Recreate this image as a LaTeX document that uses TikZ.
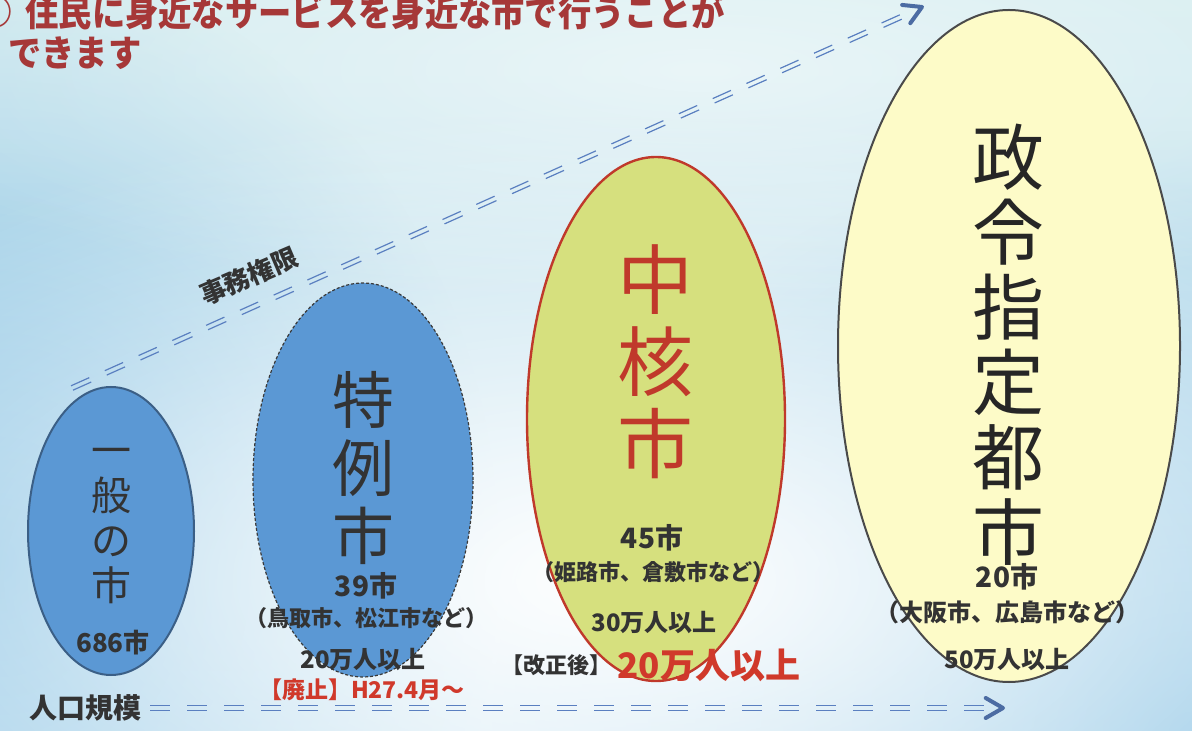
\documentclass[tikz,border=0pt]{standalone}
\usepackage{fontspec}
\newfontfamily\jp{Noto Sans CJK JP}
\newfontfamily\jpc{Noto Sans CJK JP}[FakeStretch=0.925]
\usetikzlibrary{shapes.geometric,calc,fadings}
\tikzfading[name=glow, inner color=transparent!0, outer color=transparent!100]
\definecolor{titlered}{HTML}{A63838}
\definecolor{textgray}{HTML}{333333}
\definecolor{labelred}{HTML}{D0392B}
\definecolor{cityblue}{HTML}{5B98D4}
\definecolor{blueedge}{HTML}{3B5F86}
\definecolor{darkedge}{HTML}{3A3A3A}
\definecolor{coregreen}{HTML}{D6E07E}
\definecolor{corered}{HTML}{C0392B}
\definecolor{desigyellow}{HTML}{FDFBC8}
\definecolor{desigedge}{HTML}{4A4A4A}
\definecolor{arrowblue}{HTML}{5A7FC0}
\definecolor{bgtop}{HTML}{D3ECEF}
\definecolor{bgmid}{HTML}{C2E1EF}
\definecolor{bgbot}{HTML}{C8E4F2}
\definecolor{bgdeep}{HTML}{8EC5E5}
\begin{document}
\begin{tikzpicture}[x=0.5pt,y=-0.5pt]
\tikzset{
  ell/.style={ellipse, inner sep=0pt, line width=1pt},
  txt/.style={inner sep=0pt, text=textgray},
  fsz/.style={font=\jp\fontsize{#1}{#1}\selectfont},
  fszb/.style={font=\jp\bfseries\fontsize{#1}{#1}\selectfont},
  ttl/.style={inner sep=0pt, text=titlered, font=\jpc\bfseries\fontsize{18}{18}\selectfont},
  vert/.style 2 args={inner sep=0pt, align=center, font=\jp\fontsize{#1}{#2}\selectfont},
  dline/.style={draw=arrowblue, line width=0.6pt, dash pattern=on 10pt off 8.5pt},
  chevron/.style={draw=arrowblue!85!black, line width=2pt, line cap=round, line join=round},
}
\useasboundingbox (0,0) rectangle (1192,731);
% background
\shade[top color=bgtop, bottom color=bgbot, middle color=bgmid] (0,0) rectangle (1192,731);
\begin{scope}
\clip (0,0) rectangle (1192,731);
\fill[bgdeep, path fading=glow] (0,560) ellipse (500 and 600);
\fill[bgdeep, path fading=glow] (1192,731) ellipse (700 and 600);
\fill[white, path fading=glow] (620,580) ellipse (1000 and 480);
\fill[white, path fading=glow, opacity=0.55] (700,70) ellipse (900 and 240);
\end{scope}

% arrows
\coordinate (ds) at (72,388);
\coordinate (de) at (912,12);
\coordinate (dt) at (922,7);
\draw[dline] ($(ds)!1.2pt!90:(de)$) -- ($(de)!1.2pt!-90:(ds)$);
\draw[dline] ($(ds)!1.2pt!-90:(de)$) -- ($(de)!1.2pt!90:(ds)$);
\draw[chevron] ($(dt)!10pt!30:(ds)$) -- (dt) -- ($(dt)!10pt!-30:(ds)$);

\coordinate (hs) at (150,708);
\coordinate (he) at (990,708);
\coordinate (ht) at (1003,708);
\draw[dline] ($(hs)!1.2pt!90:(he)$) -- ($(he)!1.2pt!-90:(hs)$);
\draw[dline] ($(hs)!1.2pt!-90:(he)$) -- ($(he)!1.2pt!90:(hs)$);
\draw[chevron] ($(ht)!10pt!30:(hs)$) -- (ht) -- ($(ht)!10pt!-30:(hs)$);

% ellipses
\node[ell, fill=cityblue, draw=blueedge, minimum width=83pt, minimum height=144pt] (e1) at (111,531) {};
\node[ell, fill=cityblue, draw=darkedge, line width=0.6pt, dash pattern=on 1.5pt off 1pt, minimum width=110pt, minimum height=197pt] (e2) at (363,480) {};
\node[ell, fill=coregreen, draw=corered, line width=1.2pt, minimum width=129pt, minimum height=262pt] (e3) at (656,419) {};
\node[ell, fill=desigyellow, draw=desigedge, minimum width=171pt, minimum height=336pt] (e4) at (1009,346) {};

% title
\node[ttl] (circ) at (-4,12) {○};
\node[ttl, anchor=west] (title1) at (25,12) {住民に身近なサービスを身近な市で行うことが};
\node[ttl, anchor=west] (title2) at (8,53) {できます};

% axis labels
\node[txt, fszb=13, rotate=23] (jimu) at (249,276) {事務権限};
\node[txt, fszb=14, anchor=east] (jinko) at (142,708) {人口規模};

% 一般の市
\node[txt, vert={20}{22.5}] (n1) at (111,526) {一\\般\\の\\市};
\node[txt, fszb=13] (c1) at (113,643) {686市};

% 特例市
\node[txt, vert={31}{34}] (n2) at (363,468) {特\\例\\市};
\node[txt, fszb=14] (c2) at (366,586) {39市};
\node[txt, fszb=11] (x2) at (366,618) {（鳥取市、松江市など）};
\node[txt, fszb=12] (p2) at (363,660) {20万人以上};
\node[txt, text=labelred, fszb=11.5] (h2) at (362,690) {【廃止】H27.4月～};

% 中核市
\node[txt, text=corered, vert={38}{41}] (n3) at (655,362) {中\\核\\市};
\node[txt, fszb=14] (c3) at (652,538) {45市};
\node[txt, fszb=11] (x3) at (653,572) {（姫路市、倉敷市など）};
\node[txt, fszb=12] (p3) at (654,623) {30万人以上};
\node[txt, fszb=11, anchor=east] (k3) at (612,665) {【改正後】};
\node[txt, text=labelred, fszb=17.5, anchor=west] (r3) at (617,665) {20万人以上};

% 政令指定都市
\node[txt, vert={36}{37.5}, text=black!85] (n4) at (1008,345) {政\\令\\指\\定\\都\\市};
\node[txt, fszb=14] (c4) at (1007,577) {20市};
\node[txt, fszb=12] (x4) at (1007,612) {（大阪市、広島市など）};
\node[txt, fszb=12] (p4) at (1007,660) {50万人以上};
\end{tikzpicture}
\end{document}
